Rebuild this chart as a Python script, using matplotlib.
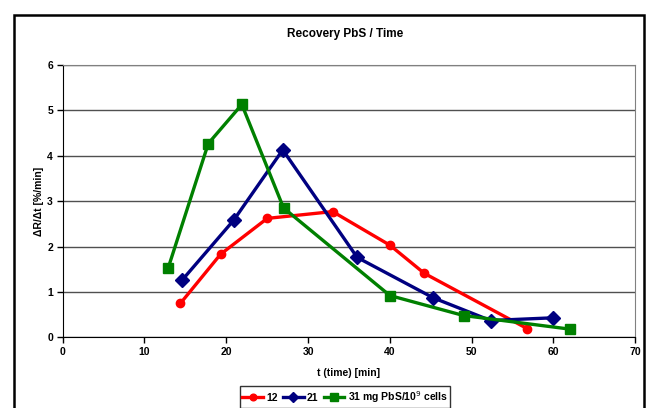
import matplotlib
matplotlib.use("Agg")
import matplotlib.pyplot as plt
from matplotlib.patches import Rectangle

plt.rcParams['font.family'] = ['Liberation Sans', 'DejaVu Sans']

# data
t_12 = [14.4, 19.3, 25.0, 33.0, 40.0, 44.2, 56.8]
r_12 = [0.75, 1.83, 2.62, 2.77, 2.03, 1.41, 0.19]

t_21 = [14.6, 20.9, 26.9, 36.0, 45.3, 52.3, 60.0]
r_21 = [1.26, 2.58, 4.13, 1.76, 0.87, 0.37, 0.43]

t_31 = [12.9, 17.8, 21.9, 27.0, 40.0, 49.0, 62.0]
r_31 = [1.53, 4.27, 5.13, 2.85, 0.92, 0.48, 0.18]

labels = ["12", "21", "31 mg PbS/10$^{9}$ cells"]

W, H = 650, 408
fig = plt.figure(figsize=(W / 100, H / 100), dpi=100)
ax = fig.add_axes([62.7 / W, 1 - 337.3 / H, (635.3 - 62.7) / W, (337.3 - 65) / H])

# outer chart border
fig.patches.append(Rectangle((14 / W, -0.05), (644 - 14) / W, 1.05 - 15 / H,
                             transform=fig.transFigure, fill=False,
                             edgecolor='black', linewidth=1.8))

ax.plot(t_12, r_12, color='#ff0000', marker='o', markersize=6, linewidth=2.4, label=labels[0])
ax.plot(t_21, r_21, color='#000080', marker='D', markersize=7, linewidth=2.4, label=labels[1])
ax.plot(t_31, r_31, color='#008000', marker='s', markersize=7, linewidth=2.4, label=labels[2])

ax.set_xlim(0, 70)
ax.set_ylim(0, 6)
ax.set_xticks(range(0, 71, 10))
ax.set_yticks(range(0, 7))
ax.grid(axis='y', color='#505050', linewidth=1.0)
ax.set_axisbelow(True)

for side in ['top', 'right']:
    ax.spines[side].set_color('#808080')
for side in ['left', 'bottom']:
    ax.spines[side].set_color('black')
ax.tick_params(direction='out', length=4, width=1, labelsize=7.5, pad=3)
for lbl in ax.get_xticklabels() + ax.get_yticklabels():
    lbl.set_fontweight('bold')

ax.set_xlabel("t (time) [min]", fontsize=7.5, fontweight='bold', labelpad=8)
ax.set_ylabel("ΔR/Δt [%/min]", fontsize=7.5, fontweight='bold', labelpad=2)
fig.text(345 / W, 1 - 34 / H, "Recovery PbS / Time", ha='center', va='center',
         fontsize=8.5, fontweight='bold')

leg = fig.legend(loc='center', bbox_to_anchor=(345 / W, 1 - 397 / H), ncol=3,
                 frameon=True, fancybox=False, edgecolor='black', fontsize=7.5,
                 handlelength=2.0, handletextpad=0.3, columnspacing=0.5,
                 borderpad=0.25, markerscale=0.8)
leg.get_frame().set_linewidth(1.0)
for txt in leg.get_texts():
    txt.set_fontweight('bold')

fig.savefig("out.png", dpi=100)
